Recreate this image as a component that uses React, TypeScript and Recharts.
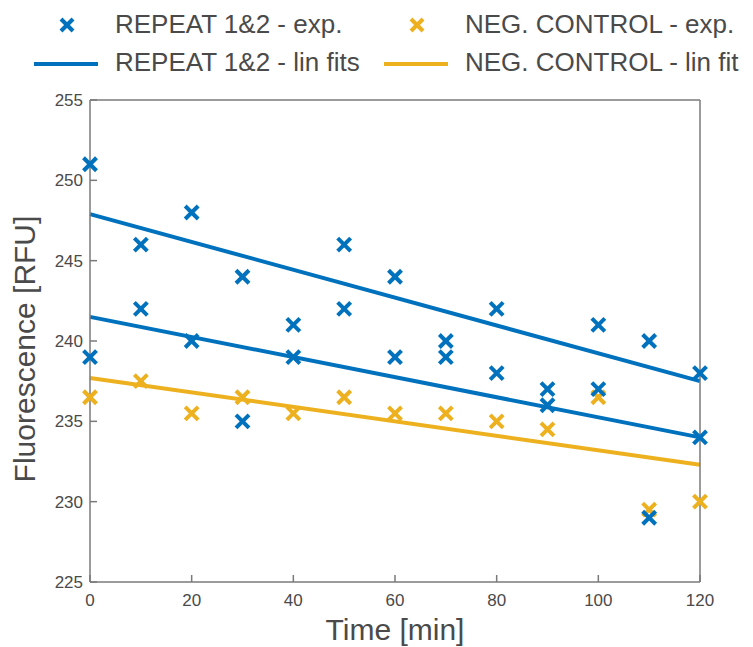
import { ComposedChart, Scatter, Line, XAxis, YAxis } from "recharts";

const times = [0, 10, 20, 30, 40, 50, 60, 70, 80, 90, 100, 110, 120];
const repeat1 = [251, 246, 248, 244, 241, 246, 244, 240, 242, 237, 241, 240, 238];
const repeat2 = [239, 242, 240, 235, 239, 242, 239, 239, 238, 236, 237, 229, 234];
const negControl = [236.5, 237.5, 235.5, 236.5, 235.5, 236.5, 235.5, 235.5, 235, 234.5, 236.5, 229.5, 230];

// fit line end points (t = 0 and t = 120)
const fitTimes = [0, 120];
const fitRepeat1 = [247.9, 237.5];
const fitRepeat2 = [241.5, 234.0];
const fitNeg = [237.7, 232.3];

const xTicks = [0, 20, 40, 60, 80, 100, 120];
const yTicks = [225, 230, 235, 240, 245, 250, 255];

const BLUE = "#0072BD";
const YELLOW = "#EDB120";
const AXIS = "#7a7a7a";
const TEXT = "#4a4a4a";
const FONT = "'Liberation Sans', Arial, sans-serif";

const toPoints = (xs: number[], ys: number[]) => xs.map((t, i) => ({ t, v: ys[i] }));

const repeatPts = [...toPoints(times, repeat1), ...toPoints(times, repeat2)];
const negPts = toPoints(times, negControl);

function Cross(props: any) {
  const { cx, cy, fill } = props;
  const s = 6.5;
  return (
    <g stroke={fill} strokeWidth={4}>
      <line x1={cx - s} y1={cy - s} x2={cx + s} y2={cy + s} />
      <line x1={cx - s} y1={cy + s} x2={cx + s} y2={cy - s} />
    </g>
  );
}

function LegendCross({ color }: { color: string }) {
  return (
    <svg width={16} height={16} style={{ display: "block" }}>
      <line x1={2} y1={2} x2={14} y2={14} stroke={color} strokeWidth={4} />
      <line x1={2} y1={14} x2={14} y2={2} stroke={color} strokeWidth={4} />
    </svg>
  );
}

function YTitle(props: any) {
  const vb = props.viewBox;
  const cy = vb.y + vb.height / 2 + 8;
  return (
    <text
      x={24}
      y={cy}
      transform={`rotate(-90, 24, ${cy})`}
      textAnchor="middle"
      dominantBaseline="central"
      fill={TEXT}
      fontSize={30}
      fontFamily={FONT}
    >
      Fluorescence [RFU]
    </text>
  );
}

const legendText: React.CSSProperties = {
  position: "absolute",
  fontFamily: FONT,
  fontSize: 26,
  color: TEXT,
  whiteSpace: "nowrap",
  lineHeight: "30px",
};

export default function App() {
  const tickStyle = { fill: TEXT, fontSize: 17, fontFamily: FONT };
  return (
    <div style={{ position: "absolute", left: 0, top: 0, width: 753, height: 647, background: "#fff" }}>
      <div style={{ position: "absolute", left: 59, top: 17 }}>
        <LegendCross color={BLUE} />
      </div>
      <div style={{ ...legendText, left: 115, top: 9 }}>REPEAT 1&amp;2 - exp.</div>
      <div style={{ position: "absolute", left: 409, top: 17 }}>
        <LegendCross color={YELLOW} />
      </div>
      <div style={{ ...legendText, left: 465, top: 9 }}>NEG. CONTROL - exp.</div>
      <div style={{ position: "absolute", left: 34, top: 62, width: 64, height: 4, background: BLUE }} />
      <div style={{ ...legendText, left: 115, top: 47 }}>REPEAT 1&amp;2 - lin fits</div>
      <div style={{ position: "absolute", left: 384, top: 62, width: 64, height: 4, background: YELLOW }} />
      <div style={{ ...legendText, left: 465, top: 47 }}>NEG. CONTROL - lin fit</div>

      <ComposedChart width={753} height={647} margin={{ top: 99, right: 0, bottom: 0, left: 0 }}>
        <XAxis
          xAxisId="bottom"
          dataKey="t"
          type="number"
          domain={[0, 120]}
          ticks={xTicks}
          height={65}
          stroke={AXIS}
          strokeWidth={1.5}
          tickSize={-7}
          tickMargin={19}
          tick={tickStyle}
          label={{
            value: "Time [min]",
            position: "insideBottom",
            offset: 7,
            style: { fill: TEXT, fontSize: 30, fontFamily: FONT },
          }}
        />
        <XAxis
          xAxisId="top"
          orientation="top"
          dataKey="t"
          type="number"
          domain={[0, 120]}
          ticks={xTicks}
          height={1}
          stroke={AXIS}
          strokeWidth={1.5}
          tickSize={-7}
          tickFormatter={() => ""}
        />
        <YAxis
          yAxisId="left"
          type="number"
          domain={[225, 255]}
          ticks={yTicks}
          width={90}
          stroke={AXIS}
          strokeWidth={1.5}
          tickSize={-7}
          tickMargin={14}
          tick={tickStyle}
          label={<YTitle />}
        />
        <YAxis
          yAxisId="right"
          orientation="right"
          type="number"
          domain={[225, 255]}
          ticks={yTicks}
          width={53}
          stroke={AXIS}
          strokeWidth={1.5}
          tickSize={-7}
          tickFormatter={() => ""}
        />
        <Line
          xAxisId="bottom"
          yAxisId="left"
          data={toPoints(fitTimes, fitRepeat1)}
          dataKey="v"
          stroke={BLUE}
          strokeWidth={4}
          dot={false}
          isAnimationActive={false}
        />
        <Line
          xAxisId="bottom"
          yAxisId="left"
          data={toPoints(fitTimes, fitRepeat2)}
          dataKey="v"
          stroke={BLUE}
          strokeWidth={4}
          dot={false}
          isAnimationActive={false}
        />
        <Line
          xAxisId="bottom"
          yAxisId="left"
          data={toPoints(fitTimes, fitNeg)}
          dataKey="v"
          stroke={YELLOW}
          strokeWidth={4}
          dot={false}
          isAnimationActive={false}
        />
        <Scatter
          xAxisId="bottom"
          yAxisId="left"
          data={negPts}
          dataKey="v"
          fill={YELLOW}
          shape={Cross}
          isAnimationActive={false}
        />
        <Scatter
          xAxisId="bottom"
          yAxisId="left"
          data={repeatPts}
          dataKey="v"
          fill={BLUE}
          shape={Cross}
          isAnimationActive={false}
        />
      </ComposedChart>
    </div>
  );
}
